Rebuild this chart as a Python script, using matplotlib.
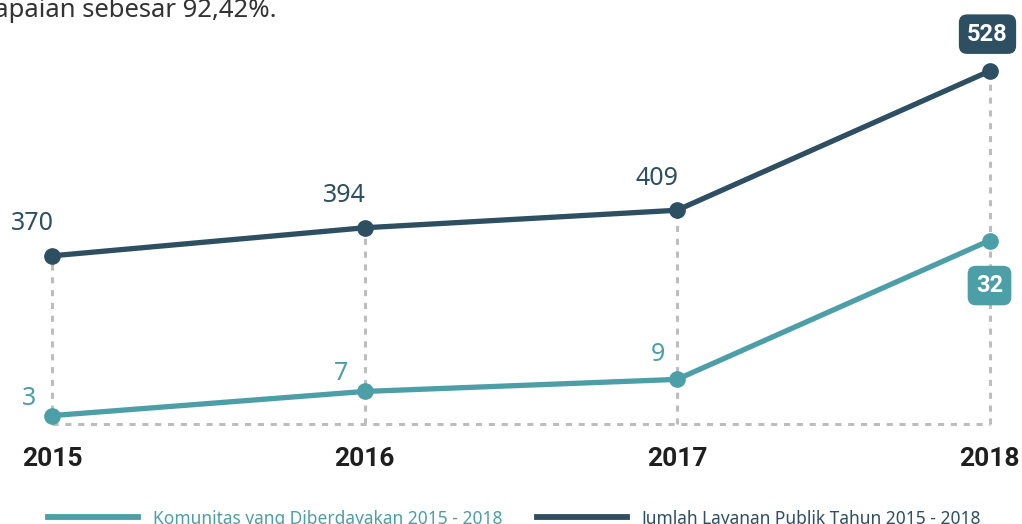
"""
Komunitas vs Layanan Publik 2015-2018
"""
import matplotlib
matplotlib.use('Agg')
import matplotlib.pyplot as plt
from matplotlib.lines import Line2D

# ============================================================
# data
# ============================================================
years = [2015, 2016, 2017, 2018]
layanan = [370, 394, 409, 528]      # Jumlah Layanan Publik
komunitas = [3, 7, 9, 32]           # Komunitas yang Diberdayakan

label_layanan = 'Jumlah Layanan Publik Tahun 2015 - 2018'
label_komunitas = 'Komunitas yang Diberdayakan 2015 - 2018'
top_text = 'capaian sebesar 92,42%.'

DARK = '#2e4f61'
TEAL = '#4c9ea7'
GRAY = '#bdbdbd'
FONT = ['Noto Sans', 'DejaVu Sans']
BOLD = ['Roboto', 'DejaVu Sans']

W, H = 1022, 524
fig = plt.figure(figsize=(W / 100, H / 100), dpi=100)
ax = fig.add_axes([0, 0, 1, 1])
ax2 = ax.twinx()
ax2.set_position([0, 0, 1, 1])

# pixel layout -> axis limits (x: 312.5 px per year, 2016.5 at px 520.75)
ax.set_xlim(2016.5 - 520.75 / 312.5, 2016.5 + (W - 520.75) / 312.5)
# dark series: px_y = 191.25 - 1.169 * (v - 425.25)
ax.set_ylim(425.25 - (H - 191.25) / 1.169, 425.25 + 191.25 / 1.169)
# teal series: px_y = 356.75 - 6.036 * (v - 12.75)
ax2.set_ylim(12.75 - (H - 356.75) / 6.036, 12.75 + 356.75 / 6.036)
for a in (ax, ax2):
    a.set_axis_off()

# baseline (px y = 424) in dark data coords
ylo, yhi = ax.get_ylim()
base = ylo + (1 - 424 / H) * (yhi - ylo)

dash_kw = dict(color=GRAY, linewidth=2.2, linestyle=(0, (2.0, 2.2)), zorder=1)
ax.plot([years[0], years[-1]], [base, base], **dash_kw)
for x, v in zip(years, layanan):
    ax.plot([x, x], [base, v], **dash_kw)

ax.plot(years, layanan, '-o', color=DARK, linewidth=3.8, markersize=11, zorder=3)
ax2.plot(years, komunitas, '-o', color=TEAL, linewidth=3.8, markersize=11, zorder=3)

# value labels
for x, v in zip(years[:-1], layanan[:-1]):
    ax.annotate(str(v), (x, v), textcoords='offset pixels', xytext=(-20, 32),
                ha='center', va='center', fontsize=18, color=DARK, family=FONT)
kom_off = [(-23, 17), (-23, 18), (-19, 25)]
for (x, v), off in zip(zip(years[:-1], komunitas[:-1]), kom_off):
    ax2.annotate(str(v), (x, v), textcoords='offset pixels', xytext=off,
                 ha='center', va='center', fontsize=18, color=TEAL, family=FONT)

# last values in boxes
ax.annotate(layanan[-1], (years[-1], layanan[-1]), textcoords='offset pixels',
            xytext=(-2, 37), ha='center', va='center', fontsize=17, fontweight='bold',
            color='white', family=BOLD, zorder=5,
            bbox=dict(boxstyle='round,pad=0.35,rounding_size=0.35', fc=DARK, ec='none'))
ax2.annotate(komunitas[-1], (years[-1], komunitas[-1]), textcoords='offset pixels',
             xytext=(0, -45), ha='center', va='center', fontsize=17, fontweight='bold',
             color='white', family=BOLD, zorder=5,
             bbox=dict(boxstyle='round,pad=0.35,rounding_size=0.35', fc=TEAL, ec='none'))

# year labels
for x in years:
    ax.text(x, 1 - 459 / H, str(x), transform=ax.get_xaxis_transform(),
            ha='center', va='center', fontsize=19, fontweight='bold',
            color='#1f1f1f', family=BOLD)

# legend (manual, bottom)
fig.add_artist(Line2D([48 / W, 138 / W], [1 - 517 / H] * 2, color=TEAL, linewidth=4.2))
fig.text(153 / W, 1 - 519 / H, label_komunitas, ha='left', va='center',
         fontsize=12.5, color=TEAL, family=FONT)
fig.add_artist(Line2D([537 / W, 627 / W], [1 - 517 / H] * 2, color=DARK, linewidth=4.2))
fig.text(641 / W, 1 - 519 / H, label_layanan, ha='left', va='center',
         fontsize=12.5, color=DARK, family=FONT)

# cropped text from above
fig.text(277 / W, 1 - 17 / H, top_text, ha='right', va='baseline',
         fontsize=18.5, color='#333333', family=FONT)

fig.savefig('out.png', dpi=100)
plt.close()
